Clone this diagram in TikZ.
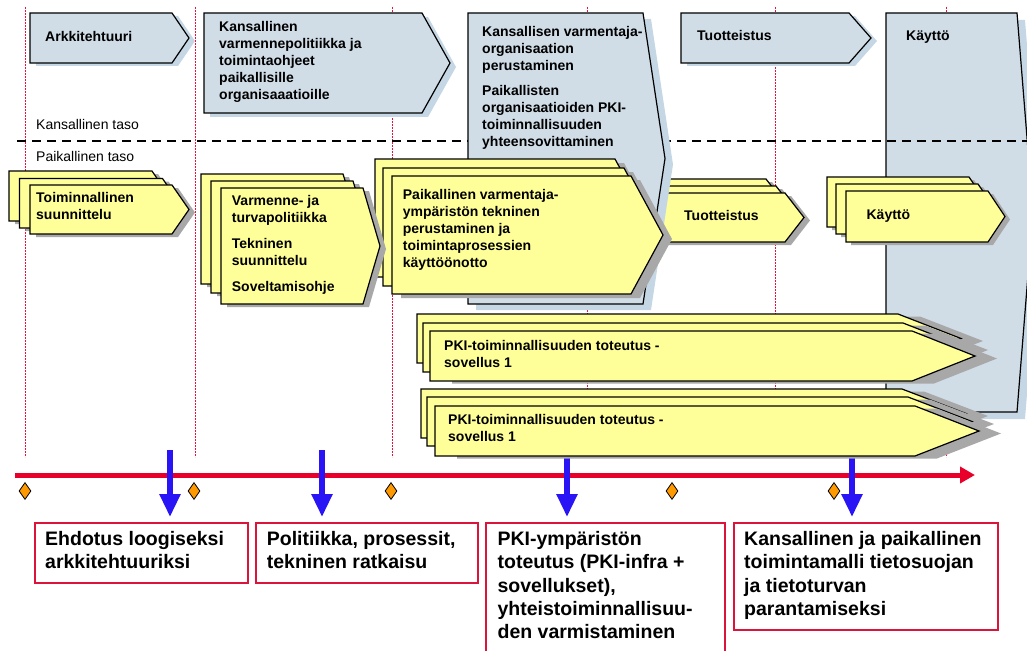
\documentclass[tikz,border=0pt]{standalone}
\usepackage{fontspec}
\setmainfont{Liberation Sans}
\usetikzlibrary{arrows.meta,shapes.geometric}

\definecolor{panelblue}{RGB}{208,221,231}
\definecolor{panelshade}{RGB}{197,215,228}
\definecolor{stepyellow}{RGB}{255,255,153}
\definecolor{stepshade}{RGB}{168,168,168}
\definecolor{timered}{RGB}{232,0,42}
\definecolor{milestoneblue}{RGB}{40,20,245}
\definecolor{gateorange}{RGB}{255,153,0}
\definecolor{resultred}{RGB}{220,20,60}
\definecolor{gridred}{RGB}{230,20,60}

% pentagon arrow with its offset shadow
% #1,#2 shadow offset; #3,#4 top-left corner; #5 body width; #6 height; #7 point depth
\newcommand\panelchev[7]{%
  \fill[panelshadow] (#3+#1,#4+#2) -- ++(#5,0) -- ++(#7,#6/2) -- ++(-#7,#6/2) -- ++(-#5,0) -- cycle;
  \draw[panel] (#3,#4) -- ++(#5,0) -- ++(#7,#6/2) -- ++(-#7,#6/2) -- ++(-#5,0) -- cycle;}
\newcommand\stepchev[7]{%
  \fill[stepshadow] (#3+#1,#4+#2) -- ++(#5,0) -- ++(#7,#6/2) -- ++(-#7,#6/2) -- ++(-#5,0) -- cycle;
  \draw[steplayer] (#3,#4) -- ++(#5,0) -- ++(#7,#6/2) -- ++(-#7,#6/2) -- ++(-#5,0) -- cycle;}

\begin{document}
\begin{tikzpicture}[x=1pt,y=-1pt,
  panel/.style={fill=panelblue,draw=black,line width=1.2pt},
  panelshadow/.style={fill=panelshade},
  steplayer/.style={fill=stepyellow,draw=black,line width=1.2pt},
  stepshadow/.style={fill=stepshade},
  gridline/.style={draw=gridred,line width=1pt,dash pattern=on 2pt off 1pt},
  levelline/.style={draw=black,line width=2.8pt,dash pattern=on 9pt off 6pt},
  lbl/.style={anchor=north west,inner sep=0pt,align=left,
    font=\bfseries\fontsize{14}{17}\selectfont,
    execute at begin node={\rule{0pt}{11.5pt}}},
  levellbl/.style={lbl,font=\fontsize{14}{17}\selectfont},
  restext/.style={anchor=north west,inner sep=0pt,align=left,
    font=\bfseries\fontsize{19.5}{23.3}\selectfont,
    execute at begin node={\rule{0pt}{15.5pt}}},
  resbox/.style={draw=resultred,line width=1.5pt,anchor=north west,inner sep=0pt},
  timeline/.style={draw=timered,line width=5pt,-{Triangle[length=15pt,width=16pt]}},
  gate/.style={diamond,draw=black,line width=0.8pt,fill=gateorange,
    minimum width=12pt,minimum height=17pt,inner sep=0pt},
  milestone/.style={draw=milestoneblue,line width=5.5pt,
    -{Triangle[length=23pt,width=20pt]},shorten >=5pt}
]
\useasboundingbox (0,0) rectangle (1027,650);
\clip (0,0) rectangle (1027,650);

% phase grid
\foreach \gx in {25,195,392,587,775,946}
  \draw[gridline] (\gx,7) -- (\gx,457);

% national use phase (under the level divider)
\panelchev{8}{7}{886}{13}{131}{399}{16}

% national / local level divider
\draw[levelline] (17,141) -- (1027,141);

% national phases
\panelchev{6}{3}{30}{13}{142}{50}{17}
\panelchev{6}{4}{204}{13}{218}{100}{28}
\panelchev{6}{3}{681}{13}{168}{50}{22}

% local productisation stack (behind the national PKI panel)
\stepchev{6}{3}{632}{179}{134}{49}{19}
\stepchev{6}{3}{641}{186}{135}{49}{19}
\stepchev{6}{3}{650}{193}{135}{49}{19}

% national PKI organisation panel
\panelchev{8}{6}{468}{13}{175}{291}{22}

% local stacks
\stepchev{9}{4}{375}{159}{240}{118}{32}
\stepchev{9}{4}{383}{168}{241}{118}{32}
\stepchev{9}{4}{392}{176}{239}{118}{32}

\stepchev{6}{3}{201}{174}{142}{110}{17}
\stepchev{6}{3}{211}{181}{142}{112}{17}
\stepchev{6}{3}{221}{188}{142}{116}{17}

\stepchev{6}{3}{9}{171}{143}{50}{17}
\stepchev{6}{3}{19.5}{178.5}{143}{49.5}{17}
\stepchev{6}{3}{30}{185}{142}{49}{17}

\stepchev{5}{3}{827}{177}{142}{50}{17}
\stepchev{5}{3}{836}{184}{142}{50}{17}
\stepchev{5}{3}{846}{191}{142}{51}{17}

% timeline with gates
\coordinate (tl0) at (15,475);
\coordinate (tl1) at (975,475);
\draw[timeline] (tl0) -- (tl1);
\node[gate] (g1) at (25,491) {};
\node[gate] (g2) at (194,491) {};
\node[gate] (g3) at (391,491) {};
\node[gate] (g4) at (672,491) {};
\node[gate] (g5) at (834,491) {};

% result boxes
\node[resbox,minimum width=213pt,minimum height=60pt] (box1) at (34,522) {};
\node[resbox,minimum width=222pt,minimum height=60pt] (box2) at (255,522) {};
\node[resbox,minimum width=239pt,minimum height=140pt] (box3) at (485,522) {};
\node[resbox,minimum width=264pt,minimum height=107pt] (box4) at (733,522) {};

% milestones
\coordinate (m1) at (170,450);
\coordinate (m2) at (322,450);
\coordinate (m3) at (567,450);
\coordinate (m4) at (852,450);
\draw[milestone] (m1) -- (m1 |- box1.north);
\draw[milestone] (m2) -- (m2 |- box2.north);
\draw[milestone] (m3) -- (m3 |- box3.north);
\draw[milestone] (m4) -- (m4 |- box4.north);

% PKI application stacks
\stepchev{22}{2.5}{417}{314}{481}{49}{63}
\stepchev{22}{2.5}{423}{323}{480}{49}{63}
\stepchev{22}{2.5}{430}{331}{482}{50}{63}

\stepchev{22}{2.5}{421}{389}{481}{49}{64}
\stepchev{22}{2.5}{427}{397}{481}{49}{64}
\stepchev{22}{2.5}{435}{406}{480}{50}{64}

% labels
\node[lbl] (arch) at (45,29.5) {Arkkitehtuuri};
\node[lbl] (policy) at (219,21.5) {Kansallinen\\varmennepolitiikka ja\\toimintaohjeet\\paikallisille\\organisaaatioille};
\node[lbl] (natca) at (482,26) {Kansallisen varmentaja-\\organisaation\\perustaminen\\[8.2pt]Paikallisten\\organisaatioiden PKI-\\toiminnallisuuden\\yhteensovittaminen};
\node[lbl] (natprod) at (697,28.5) {Tuotteistus};
\node[lbl] (natuse) at (906,29.2) {Käyttö};

\node[levellbl] (natlevel) at (36,118) {Kansallinen taso};
\node[levellbl] (loclevel) at (36,149.5) {Paikallinen taso};

\node[lbl] (plan) at (36,192.5) {Toiminnallinen\\suunnittelu};
\node[lbl] (secpol) at (231.7,195.2) {Varmenne- ja\\turvapolitiikka\\[8.6pt]Tekninen\\suunnittelu\\[9pt]Soveltamisohje};
\node[lbl] (locca) at (402.7,189.5) {Paikallinen varmentaja-\\ympäristön tekninen\\perustaminen ja\\toimintaprosessien\\käyttöönotto};
\node[lbl] (locprod) at (684,208.5) {Tuotteistus};
\node[lbl] (locuse) at (866.4,207.8) {Käyttö};
\node[lbl] (app1) at (444,340.2) {PKI-toiminnallisuuden toteutus -\\sovellus 1};
\node[lbl] (app2) at (448,414.5) {PKI-toiminnallisuuden toteutus -\\sovellus 1};

\node[restext] (res1) at (45,531.2) {Ehdotus loogiseksi\\arkkitehtuuriksi};
\node[restext] (res2) at (266.7,531.2) {Politiikka, prosessit,\\tekninen ratkaisu};
\node[restext] (res3) at (497.4,531.2) {PKI-ympäristön\\toteutus (PKI-infra +\\sovellukset),\\yhteistoiminnallisuu-\\den varmistaminen};
\node[restext] (res4) at (744,531.2) {Kansallinen ja paikallinen\\toimintamalli tietosuojan\\ja tietoturvan\\parantamiseksi};
\end{tikzpicture}
\end{document}
